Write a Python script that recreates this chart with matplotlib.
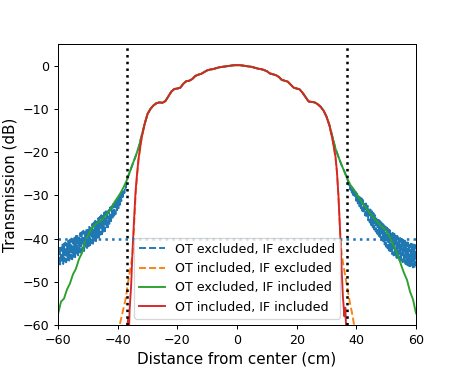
import numpy as np
import matplotlib.pyplot as plt

# central part, shared by all four runs (x = -30..30 cm, 1 cm step)
core_x = list(range(-30, 31))
core_db = [-11.2, -10.0, -9.2, -8.7, -8.5, -8.6, -8.2, -7.1, -6.0, -5.4,
           -5.3, -5.1, -4.2, -3.6, -3.5, -3.1, -2.4, -2.1, -1.9, -1.5,
           -1.1, -0.9, -0.8, -0.6, -0.4, -0.3, -0.2, -0.1, 0.0, 0.1,
           0.1, 0.1, 0.0, -0.1, -0.2, -0.3, -0.5, -0.7, -0.8, -1.0,
           -1.3, -1.8, -2.0, -2.2, -2.6, -3.3, -3.5, -3.7, -4.4, -5.1,
           -5.3, -5.5, -6.3, -7.3, -8.3, -8.4, -8.5, -8.9, -9.5, -10.4,
           -11.8]

# OT excluded, IF included
green_left_x = list(range(-60, -30))
green_left = [-57.5, -54.6, -53.9, -51.8, -50.4, -48.3, -47.0, -44.8, -43.4, -40.8,
              -39.4, -38.0, -37.1, -36.4, -36.1, -35.5, -34.6, -33.8, -32.8, -31.5,
              -30.5, -29.4, -28.1, -26.6, -24.7, -22.8, -21.0, -19.0, -16.3, -13.6]
green_right_x = list(range(31, 61))
green_right = [-13.8, -16.5, -19.2, -21.1, -22.9, -24.5, -26.2, -27.6, -28.5, -29.6,
               -30.7, -31.8, -32.7, -33.6, -34.5, -35.4, -36.1, -36.9, -37.5, -38.2,
               -39.4, -40.9, -42.5, -44.0, -46.1, -48.0, -49.6, -52.3, -54.1, -57.3]

# OT excluded, IF excluded (noisy tails, 0.25 cm step)
blue_left_x = list(np.arange(-60, -37.2, 0.25)) + list(range(-37, -30))
blue_left = [-42.0, -46.3, -41.7, -46.0, -42.1, -45.6, -41.4, -45.9, -41.2, -45.3,
             -40.9, -45.5, -41.3, -44.9, -40.5, -45.1, -40.3, -44.6, -40.0, -44.8,
             -40.4, -44.2, -39.6, -44.3, -39.4, -43.7, -39.1, -43.9, -39.5, -43.2,
             -38.7, -43.3, -38.5, -42.8, -38.2, -42.9, -38.6, -42.3, -37.8, -42.4,
             -37.5, -41.8, -37.1, -41.9, -37.4, -41.1, -36.6, -41.2, -36.3, -40.5,
             -35.9, -40.6, -36.1, -39.8, -35.3, -39.8, -35.0, -39.1, -34.6, -39.0,
             -34.8, -38.4, -34.0, -38.3, -33.7, -37.6, -33.3, -37.4, -33.4, -36.6,
             -32.8, -36.4, -32.5, -35.6, -32.0, -35.2, -31.9, -34.4, -31.2, -33.9,
             -30.9, -33.0, -30.3, -32.2, -29.9, -31.3, -29.2, -30.4, -28.6, -29.5,
             -27.9, -28.3,
             -26.6, -24.7, -22.8, -21.0, -19.0, -16.3, -13.6]
blue_right_x = list(range(31, 38)) + list(np.arange(37.25, 60.01, 0.25))
blue_right = [-13.8, -16.5, -19.2, -21.1, -22.9, -24.5, -26.2,
              -27.0, -27.8, -27.4, -28.7, -27.9, -29.4, -28.4, -30.0, -28.8, -30.6,
              -29.2, -31.3, -29.6, -31.9, -30.0, -32.5, -30.3, -33.0, -30.7, -33.6,
              -31.1, -34.1, -31.5, -34.7, -31.9, -35.2, -32.4, -35.8, -32.8, -36.3,
              -33.3, -36.9, -33.7, -37.4, -34.1, -37.9, -34.6, -38.4, -35.0, -38.9,
              -35.4, -39.4, -35.8, -39.9, -36.2, -40.4, -36.5, -40.9, -36.9, -41.4,
              -37.2, -41.9, -37.5, -42.3, -37.8, -42.8, -38.1, -43.2, -38.4, -43.6,
              -38.7, -43.9, -38.9, -44.2, -39.2, -44.5, -39.4, -44.8, -39.7, -45.0,
              -39.9, -45.3, -40.1, -45.5, -40.3, -45.7, -40.5, -45.9, -40.7, -46.1,
              -40.9, -46.3, -41.0, -46.4, -41.2, -46.6, -41.3, -46.7, -41.4, -46.8,
              -41.5, -46.3]

# OT included, IF included
red_left_x = [-37.0, -36.5, -36.2, -36.0, -35.5, -35.0, -34.5, -34.0, -33.5, -33.0, -32.0, -31.0]
red_left = [-62.0, -58.5, -61.0, -56.5, -51.0, -42.5, -35.5, -29.0, -25.0, -21.5, -16.8, -13.6]
red_right_x = [31.0, 32.0, 33.0, 33.5, 34.0, 34.5, 35.0, 35.5, 36.0, 36.3, 36.6, 37.0]
red_right = [-13.9, -17.0, -21.0, -24.5, -30.0, -37.5, -46.0, -53.5, -58.0, -56.0, -61.0, -62.0]

# OT included, IF excluded
orange_left_x = [-40.0, -39.5, -39.0, -38.5, -38.0, -37.5, -37.0, -36.5, -36.0,
                 -35.5, -35.0, -34.5, -34.0, -33.5, -33.0, -32.0, -31.0]
orange_left = [-62.0, -60.5, -59.0, -57.5, -56.0, -54.5, -52.5, -50.0, -48.0,
               -46.0, -43.5, -37.0, -30.0, -25.5, -21.8, -16.9, -13.6]
orange_right_x = [31.0, 32.0, 33.0, 33.5, 34.0, 34.5, 35.0, 35.5, 36.0,
                  36.5, 37.0, 37.5, 38.0, 38.5, 39.0, 39.5]
orange_right = [-13.9, -17.1, -21.2, -24.8, -30.5, -37.5, -43.0, -45.5, -47.5,
                -49.5, -51.5, -53.5, -55.5, -57.0, -59.0, -61.0]

edge_cm = 37
floor_db = -40


def join(lx, ly, rx, ry):
    return (list(lx) + core_x + list(rx), list(ly) + core_db + list(ry))


fig = plt.figure(figsize=(463 / 91, 371 / 91), dpi=91)
ax = fig.add_axes([0.1253, 0.124, 0.7732, 0.7574])

x, y = join(blue_left_x, blue_left, blue_right_x, blue_right)
ax.plot(x, y, '--', color='C0', label='OT excluded, IF excluded')
x, y = join(orange_left_x, orange_left, orange_right_x, orange_right)
ax.plot(x, y, '--', color='C1', label='OT included, IF excluded')
x, y = join(green_left_x, green_left, green_right_x, green_right)
ax.plot(x, y, '-', color='C2', label='OT excluded, IF included')
x, y = join(red_left_x, red_left, red_right_x, red_right)
ax.plot(x, y, '-', color='C3', label='OT included, IF included')

ax.axvline(-edge_cm, color='k', ls=':', lw=2)
ax.axvline(edge_cm, color='k', ls=':', lw=2)
ax.axhline(floor_db, color='C0', ls=':', lw=2)

ax.set_xlim(-60, 60)
ax.set_ylim(-60, 5)
ax.set_xticks([-60, -40, -20, 0, 20, 40, 60])
ax.set_yticks([-60, -50, -40, -30, -20, -10, 0])
ax.tick_params(labelsize=10)
ax.set_xlabel('Distance from center (cm)', fontsize=12)
ax.set_ylabel('Transmission (dB)', fontsize=12)
ax.legend(loc='lower center', fontsize=10)

fig.savefig('out.png', dpi=91)
